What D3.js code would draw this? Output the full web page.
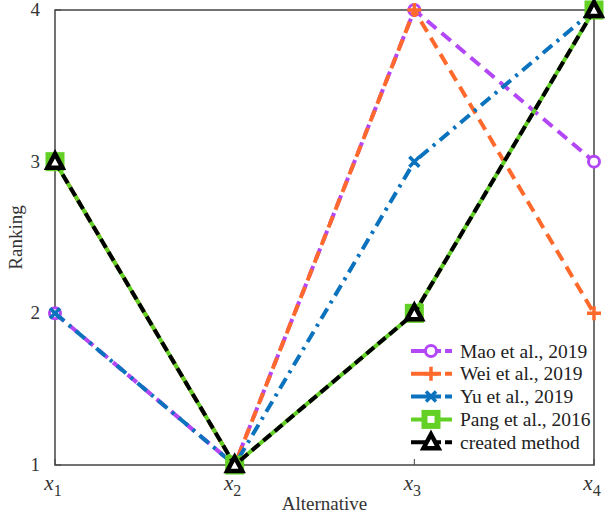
<!DOCTYPE html>
<html>
<head>
<meta charset="utf-8">
<script src="https://cdn.jsdelivr.net/npm/d3@7"></script>
<style>
  body { margin: 0; background: #fff; }
  svg text { font-family: "Liberation Serif", "DejaVu Serif", serif; fill: #333; }
</style>
</head>
<body>
<svg id="chart" width="605" height="518"></svg>
<script>
const alternatives = ["1", "2", "3", "4"];
const yTicks = [1, 2, 3, 4];
const mao = [2, 1, 4, 3];
const wei = [3, 1, 4, 2];
const yu = [2, 1, 3, 4];
const pang = [3, 1, 2, 4];
const created = [3, 1, 2, 4];

const series = [
  { name: "Mao et al., 2019", values: mao, color: "#b347f5", dash: "12,7", marker: "circle" },
  { name: "Wei et al., 2019", values: wei, color: "#ff6a2c", dash: "12,7", marker: "plus" },
  { name: "Yu et al., 2019", values: yu, color: "#0b72bd", dash: "12,6,3,6", marker: "cross" },
  { name: "Pang et al., 2016", values: pang, color: "#62d025", dash: null, marker: "square" },
  { name: "created method", values: created, color: "#000", dash: "10,5", marker: "triangle" }
];

const svg = d3.select("#chart").attr("font-family", "Liberation Serif, serif");
const pLeft = 55, pRight = 594, pTop = 10, pBottom = 465;

const x = d3.scalePoint().domain(alternatives).range([pLeft, pRight]);
const y = d3.scaleLinear().domain([1, 4]).range([pBottom, pTop]);

// frame
svg.append("rect")
  .attr("x", pLeft).attr("y", pTop)
  .attr("width", pRight - pLeft).attr("height", pBottom - pTop)
  .attr("fill", "none").attr("stroke", "#444").attr("stroke-width", 1.5);

// ticks
alternatives.forEach(a => {
  svg.append("line").attr("x1", x(a)).attr("x2", x(a))
    .attr("y1", pBottom).attr("y2", pBottom - 6).attr("stroke", "#444");
  const t = svg.append("text").attr("x", x(a) - 2).attr("y", pBottom + 25)
    .attr("text-anchor", "middle").style("font-size", "21px");
  t.append("tspan").style("font-style", "italic").text("x");
  t.append("tspan").attr("dy", 6).style("font-size", "16px").text(a);
});
yTicks.forEach(v => {
  svg.append("line").attr("x1", pLeft).attr("x2", pLeft + 6)
    .attr("y1", y(v)).attr("y2", y(v)).attr("stroke", "#444");
  svg.append("text").attr("x", pLeft - 15).attr("y", y(v) + 6)
    .attr("text-anchor", "end").style("font-size", "19px").text(v);
});

svg.append("text").attr("x", (pLeft + pRight) / 2).attr("y", 510)
  .attr("text-anchor", "middle").style("font-size", "19px").text("Alternative");
svg.append("text").attr("transform", `translate(22,${(pTop + pBottom) / 2}) rotate(-90)`)
  .attr("text-anchor", "middle").style("font-size", "19px").text("Ranking");

const line = d3.line().x((d, i) => x(alternatives[i])).y(d => y(d));

function drawMarker(g, type, cx, cy, color) {
  if (type === "circle") {
    g.append("circle").attr("cx", cx).attr("cy", cy).attr("r", 5.5)
      .attr("fill", "#fff").attr("stroke", color).attr("stroke-width", 3);
  } else if (type === "plus") {
    g.append("path").attr("d", `M${cx - 7},${cy}H${cx + 7}M${cx},${cy - 7}V${cy + 7}`)
      .attr("stroke", color).attr("stroke-width", 3.5);
  } else if (type === "cross") {
    g.append("path").attr("d", `M${cx - 5},${cy - 5}L${cx + 5},${cy + 5}M${cx - 5},${cy + 5}L${cx + 5},${cy - 5}`)
      .attr("stroke", color).attr("stroke-width", 3.5);
  } else if (type === "square") {
    g.append("rect").attr("x", cx - 6.5).attr("y", cy - 6.5).attr("width", 13).attr("height", 13)
      .attr("fill", "#fff").attr("stroke", color).attr("stroke-width", 6);
  } else if (type === "triangle") {
    g.append("path").attr("d", `M${cx},${cy - 8}L${cx + 7.5},${cy + 6}L${cx - 7.5},${cy + 6}Z`)
      .attr("fill", "#fff").attr("stroke", color).attr("stroke-width", 4.5)
      .attr("stroke-linejoin", "miter");
  }
}

series.forEach(s => {
  const g = svg.append("g");
  g.append("path").datum(s.values).attr("d", line)
    .attr("fill", "none").attr("stroke", s.color).attr("stroke-width", 4)
    .attr("stroke-dasharray", s.dash);
  s.values.forEach((v, i) => drawMarker(g, s.marker, x(alternatives[i]), y(v), s.color));
});

// legend
const legend = svg.append("g");
series.forEach((s, i) => {
  const ly = 351 + i * 22.8;
  legend.append("rect").attr("x", 408).attr("y", ly - 11).attr("width", 184).attr("height", 23).attr("fill", "#fff");
});
series.forEach((s, i) => {
  const ly = 351 + i * 22.8;
  legend.append("line").attr("x1", 411).attr("x2", 452).attr("y1", ly).attr("y2", ly)
    .attr("stroke", s.color).attr("stroke-width", 4).attr("stroke-dasharray", s.dash ? "30,4,8" : null);
  drawMarker(legend, s.marker, 431, ly, s.color);
  legend.append("text").attr("x", 460).attr("y", ly + 6.5).style("font-size", "19.5px").style("fill", "#222").text(s.name);
});
</script>
</body>
</html>
